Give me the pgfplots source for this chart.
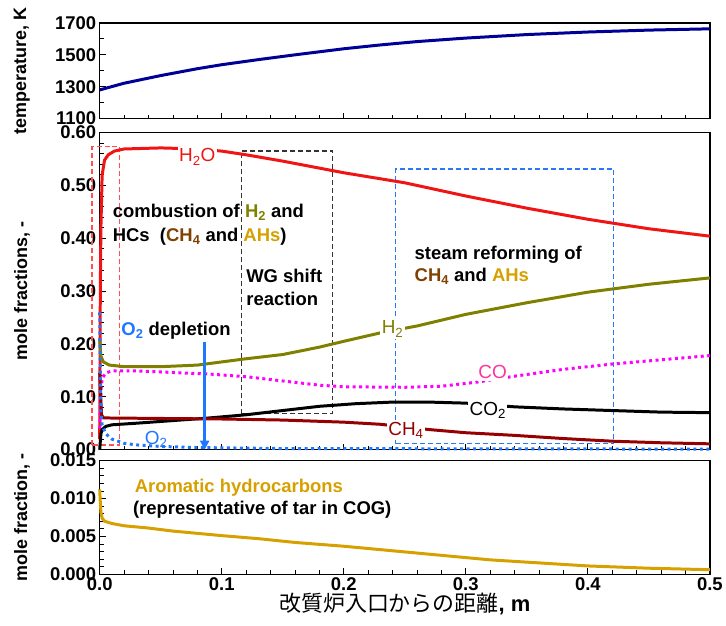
\documentclass[border=0pt]{standalone}
\usepackage{pgfplots}
\pgfplotsset{compat=1.18}
\usepackage{fontspec}
\setmainfont{Liberation Sans}
\newfontfamily\jpfont{Noto Sans CJK JP}
\usetikzlibrary{arrows.meta}

\definecolor{tempblue}{RGB}{0,0,150}
\definecolor{htwoored}{RGB}{240,20,20}
\definecolor{htwoolive}{RGB}{128,128,0}
\definecolor{comag}{RGB}{255,0,255}
\definecolor{colabel}{RGB}{255,51,153}
\definecolor{chfour}{RGB}{150,0,0}
\definecolor{chfourtxt}{RGB}{128,64,0}
\definecolor{otwoblue}{RGB}{30,120,255}
\definecolor{ahgold}{RGB}{214,160,0}
\definecolor{boxred}{RGB}{255,80,80}
\definecolor{boxblue}{RGB}{40,120,255}

\newcommand{\lab}{\fontsize{18.5}{22}\selectfont}
\newcommand{\spl}{\fontsize{19}{22}\selectfont}

\pgfplotsset{
  panel/.style={
    scale only axis, width=612pt, xmin=0, xmax=0.5,
    axis line style={line width=1.5pt},
    every tick/.style={line width=0.8pt, black},
    tick align=inside, xtick pos=bottom, ytick pos=left,
    major tick length=6pt, minor tick length=4pt,
    xtick={0,0.1,0.2,0.3,0.4,0.5}, minor x tick num=4,
    tick label style={font=\lab\bfseries},
    /pgf/number format/assume math mode=true,
    /pgf/number format/1000 sep={},
    xticklabel style={/pgf/number format/.cd, fixed, fixed zerofill, precision=1},
    ylabel style={font=\fontsize{18}{20}\selectfont\bfseries, anchor=center, at={(axis description cs:-0.1275,0.5)}},
    clip=false,
  }
}

\begin{document}
\begin{tikzpicture}
\path (0pt,0pt) rectangle (726pt,627pt);

% gas temperature along the reformer
\begin{axis}[panel, at={(100pt,508pt)}, anchor=south west, height=96pt,
  ymin=1100, ymax=1700, ytick={1100,1300,1500,1700}, minor y tick num=1,
  xticklabels={}, ylabel={temperature, K}]
\addplot[tempblue, line width=3pt] coordinates {
 (0,1280) (0.02,1322) (0.05,1370) (0.08,1413) (0.1,1438) (0.13,1470)
 (0.16,1500) (0.2,1538) (0.23,1562) (0.26,1583) (0.3,1605) (0.35,1627)
 (0.4,1643) (0.45,1655) (0.5,1663)};
\end{axis}

% major species
\begin{axis}[panel, at={(100pt,176pt)}, anchor=south west, height=318pt,
  ymin=0, ymax=0.6, ytick={0,0.1,0.2,0.3,0.4,0.5,0.6}, minor y tick num=4,
  yticklabel style={/pgf/number format/.cd, fixed, fixed zerofill, precision=2},
  xticklabels={}, ylabel={mole fractions, -}]
% reaction zones
\draw[boxred, line width=1.3pt, dash pattern=on 5pt off 3pt] (axis cs:-0.0063,0.009) rectangle (axis cs:0.0163,0.574);
\draw[black!80, line width=1.2pt, dash pattern=on 5pt off 3pt] (axis cs:0.1163,0.068) rectangle (axis cs:0.191,0.565);
\draw[boxblue, line width=1.3pt, dash pattern=on 5pt off 3pt] (axis cs:0.2424,0.011) rectangle (axis cs:0.4213,0.531);
% H2O
\addplot[htwoored, line width=3pt] coordinates {
 (0,0.02) (0.0005,0.30) (0.001,0.42) (0.002,0.52) (0.004,0.548) (0.007,0.558)
 (0.012,0.565) (0.02,0.569) (0.05,0.571) (0.08,0.569) (0.1,0.565) (0.12,0.558)
 (0.15,0.546) (0.2,0.524) (0.25,0.505) (0.3,0.48) (0.35,0.457) (0.4,0.436)
 (0.45,0.418) (0.5,0.404)};
% H2
\addplot[htwoolive, line width=3pt] coordinates {
 (0,0.21) (0.0005,0.19) (0.001,0.177) (0.003,0.166) (0.008,0.16) (0.02,0.157)
 (0.05,0.157) (0.08,0.16) (0.1,0.166) (0.12,0.172) (0.15,0.18) (0.18,0.194)
 (0.2,0.205) (0.23,0.221) (0.26,0.234) (0.3,0.256) (0.35,0.278) (0.4,0.298)
 (0.45,0.313) (0.5,0.325)};
% CO
\addplot[comag, line width=3pt, dash pattern=on 3pt off 3.5pt] coordinates {
 (0,0.04) (0.001,0.11) (0.002,0.135) (0.005,0.145) (0.01,0.149) (0.03,0.149)
 (0.06,0.146) (0.09,0.143) (0.12,0.138) (0.15,0.13) (0.18,0.122) (0.2,0.119)
 (0.25,0.118) (0.28,0.12) (0.31,0.128) (0.34,0.139) (0.38,0.152) (0.42,0.162)
 (0.46,0.17) (0.5,0.178)};
% CO2
\addplot[black, line width=3pt] coordinates {
 (0,0.0) (0.001,0.03) (0.002,0.038) (0.005,0.044) (0.01,0.047) (0.03,0.05)
 (0.06,0.055) (0.09,0.06) (0.12,0.066) (0.15,0.074) (0.18,0.082) (0.21,0.087)
 (0.24,0.09) (0.27,0.09) (0.3,0.088) (0.34,0.081) (0.38,0.077) (0.42,0.074)
 (0.46,0.071) (0.5,0.07)};
% CH4
\addplot[chfour, line width=3pt] coordinates {
 (0,0.145) (0.0008,0.1) (0.0015,0.066) (0.003,0.06) (0.05,0.059) (0.1,0.058)
 (0.15,0.056) (0.2,0.052) (0.23,0.048) (0.27,0.038) (0.3,0.032) (0.34,0.027)
 (0.38,0.021) (0.42,0.016) (0.46,0.013) (0.5,0.011)};
% O2
\addplot[otwoblue, line width=3pt, dash pattern=on 3pt off 3.5pt] coordinates {
 (0,0.26) (0.0005,0.15) (0.001,0.07) (0.002,0.046) (0.005,0.03) (0.01,0.02)
 (0.02,0.012) (0.03,0.009) (0.05,0.006) (0.08,0.004) (0.15,0.002) (0.5,0.001)};
% species labels
\node[fill=white, inner sep=1.5pt, text=htwoored, font=\spl, anchor=base] at (axis cs:0.080,0.5447) {H\textsubscript{2}O};
\node[fill=white, inner sep=1.5pt, text=htwoolive, font=\spl, anchor=base] at (axis cs:0.240,0.219) {H\textsubscript{2}};
\node[fill=white, inner sep=1.5pt, text=colabel, font=\spl, anchor=base] at (axis cs:0.322,0.134) {CO};
\node[fill=white, inner sep=1.5pt, text=black, font=\spl, anchor=base] at (axis cs:0.318,0.0648) {CO\textsubscript{2}};
\node[fill=white, inner sep=1.5pt, text=chfour, font=\spl, anchor=base] at (axis cs:0.251,0.027) {CH\textsubscript{4}};
\node[inner sep=0pt, text=otwoblue, font=\spl, anchor=base] at (axis cs:0.0463,0.010) {O\textsubscript{2}};
% zone annotations
\node[inner sep=0pt, font=\lab\bfseries, anchor=base west] at (axis cs:0.0106,0.4396) {combustion of \textcolor{htwoolive}{H\textsubscript{2}} and};
\node[inner sep=0pt, font=\lab\bfseries, anchor=base west] at (axis cs:0.0106,0.394) {HCs \ (\textcolor{chfourtxt}{CH\textsubscript{4}} and \textcolor{ahgold}{AHs})};
\node[inner sep=0pt, font=\lab\bfseries, anchor=base west] at (axis cs:0.12,0.317) {WG shift};
\node[inner sep=0pt, font=\lab\bfseries, anchor=base west] at (axis cs:0.12,0.272) {reaction};
\node[inner sep=0pt, font=\lab\bfseries, anchor=base west] at (axis cs:0.258,0.360) {steam reforming of};
\node[inner sep=0pt, font=\lab\bfseries, anchor=base west] at (axis cs:0.258,0.3176) {\textcolor{chfourtxt}{CH\textsubscript{4}} and \textcolor{ahgold}{AHs}};
\node[inner sep=0pt, font=\lab\bfseries, anchor=base west] at (axis cs:0.0177,0.2157) {\textcolor{otwoblue}{O\textsubscript{2}} depletion};
\draw[otwoblue, line width=2.5pt, -{Triangle[width=9pt,length=9pt]}] (axis cs:0.086,0.204) -- (axis cs:0.086,0.0);
\end{axis}

% aromatic hydrocarbons
\begin{axis}[panel, at={(100pt,51pt)}, anchor=south west, height=114pt,
  ymin=0, ymax=0.015, ytick={0,0.005,0.01,0.015}, minor y tick num=4,
  scaled y ticks=false,
  yticklabel style={/pgf/number format/.cd, fixed, fixed zerofill, precision=3},
  ylabel={mole fraction, -},
  xlabel={{\jpfont 改質炉入口からの距離}\textbf{, m}},
  xlabel style={font=\fontsize{22}{24}\selectfont, anchor=center, at={(axis description cs:0.5,-0.263)}}]
\addplot[ahgold, line width=3pt] coordinates {
 (0,0.0112) (0.0005,0.0095) (0.001,0.0082) (0.002,0.0074) (0.004,0.0070)
 (0.01,0.0067) (0.02,0.0064) (0.04,0.0061) (0.06,0.0057) (0.08,0.0054)
 (0.1,0.0051) (0.13,0.0047) (0.16,0.0042) (0.2,0.0037) (0.24,0.0031)
 (0.28,0.0025) (0.32,0.0019) (0.36,0.0015) (0.4,0.0011) (0.45,0.0008)
 (0.5,0.0006)};
\node[inner sep=0pt, font=\lab\bfseries, text=ahgold, anchor=base west] at (axis cs:0.0286,0.01079) {Aromatic hydrocarbons};
\node[inner sep=0pt, font=\lab\bfseries, anchor=base west] at (axis cs:0.0272,0.00789) {(representative of tar in COG)};
\end{axis}
\end{tikzpicture}
\end{document}
